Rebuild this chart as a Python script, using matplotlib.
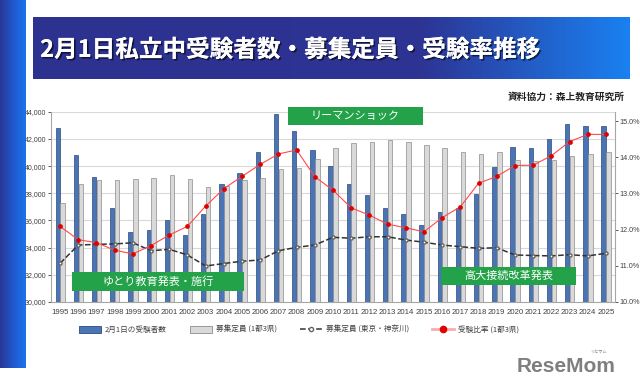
import matplotlib
matplotlib.use("Agg")
import matplotlib.pyplot as plt
import numpy as np
from matplotlib.colors import LinearSegmentedColormap
from matplotlib.lines import Line2D
from matplotlib.patches import Patch, Rectangle
import matplotlib.patheffects as pe

plt.rcParams['font.family'] = ['Liberation Sans', 'Noto Sans CJK JP', 'DejaVu Sans']

# data
years = [str(y) for y in range(1995, 2026)]
examinees = [42780, 40790, 39220, 36890, 35130, 35280, 36010, 34950, 36470, 38660,
             39500, 41010, 43830, 42560, 41160, 39980, 38700, 37850, 36940, 36450,
             35640, 36600, 36940, 37970, 39950, 41380, 41350, 41990, 43120, 42970, 42930]
capacity_all = [37310, 38660, 38980, 38950, 39070, 39100, 39320, 39030, 38440, 38530,
                38980, 39150, 39790, 39880, 40540, 41310, 41680, 41770, 41940, 41750,
                41550, 41350, 41040, 40870, 41010, 40420, 40370, 40450, 40720, 40870, 41040]
capacity_tk = [32850, 34190, 34240, 34270, 34360, 33770, 33880, 33460, 32650, 32830,
               33000, 33090, 33770, 34020, 34190, 34760, 34690, 34800, 34800, 34560,
               34400, 34190, 34070, 33950, 33990, 33460, 33420, 33390, 33480, 33390, 33580]
ratio = [12.09, 11.72, 11.64, 11.43, 11.33, 11.56, 11.85, 12.09, 12.65, 13.13,
         13.47, 13.80, 14.09, 14.20, 13.46, 13.09, 12.60, 12.40, 12.15, 12.05,
         11.94, 12.33, 12.63, 13.28, 13.47, 13.77, 13.78, 14.04, 14.43, 14.63, 14.63]

left_ticks = list(range(30000, 44001, 2000))
right_ticks = [10, 11, 12, 13, 14, 15]

W, H = 640, 389
fig = plt.figure(figsize=(6.4, 3.89), dpi=100)

# left blue strip
strip = fig.add_axes([0, 1 - 368 / H, 26 / W, 368 / H])
cm_strip = LinearSegmentedColormap.from_list('s', ['#2a3796', '#2157cc', '#1a74ec'])
strip.imshow(np.linspace(0, 1, 100).reshape(1, -1), aspect='auto', cmap=cm_strip)
strip.axis('off')

# title banner
ban = fig.add_axes([33 / W, 1 - 79 / H, 597 / W, 62 / H])
cm_ban = LinearSegmentedColormap.from_list('b', [(0, '#2e3190'), (0.65, '#2d3494'), (1, '#1a80f0')])
ban.imshow(np.linspace(0, 1, 200).reshape(1, -1), aspect='auto', cmap=cm_ban)
ban.axis('off')
ban.text(0.012, 0.47, '2月1日私立中受験者数・募集定員・受験率推移', transform=ban.transAxes,
         color='white', fontsize=17, fontweight='bold', va='center', ha='left',
         family=['Noto Sans CJK JP', 'DejaVu Sans'],
         path_effects=[pe.withSimplePatchShadow(offset=(1.2, -1.2), shadow_rgbFace='black', alpha=0.6),
                       pe.Normal()])

fig.text(625 / W, 1 - 97 / H, '資料協力：森上教育研究所', ha='right', va='center',
         fontsize=7, fontweight='bold', color='#222222', family=['Noto Sans CJK JP'])

# main chart
ax = fig.add_axes([51 / W, 1 - 302 / H, 564 / W, 190.3 / H])
x = np.arange(len(years))
ax.bar(x - 0.13, examinees, width=0.24, color='#4a74b4', edgecolor='#2b4a7e', linewidth=0.5, zorder=2)
ax.bar(x + 0.14, capacity_all, width=0.25, color='#d9d9d9', edgecolor='#8c8c8c', linewidth=0.5, zorder=2)
ax.plot(x, capacity_tk, linestyle='--', color='#333333', linewidth=1.1, marker='o',
        markersize=2.2, markerfacecolor='white', markeredgecolor='#666666', zorder=4)
ax.set_ylim(30000, 44000)
ax.set_xlim(-0.5, len(years) - 0.5)
ax.set_yticks(left_ticks)
ax.set_yticklabels([f'{v:,}' for v in left_ticks])
ax.set_xticks(x)
ax.set_xticklabels(years)
ax.grid(axis='y', color='#d9d9d9', linewidth=0.8, zorder=0)
ax.set_axisbelow(True)
ax.tick_params(axis='y', labelsize=5, colors='#404040', length=2, width=0.6, pad=1.2)
ax.tick_params(axis='x', labelsize=5.6, colors='#404040', length=0, pad=5)
for s in ['top', 'right']:
    ax.spines[s].set_visible(False)
for s in ['left', 'bottom']:
    ax.spines[s].set_color('#a6a6a6')

ax2 = ax.twinx()
ax2.plot(x, ratio, color='#ff4a4a', linewidth=0.8, marker='o', markersize=2.4,
         markerfacecolor='#e00000', markeredgecolor='#e00000', zorder=5)
ax2.set_ylim(10, 15.257)
ax2.set_yticks(right_ticks)
ax2.set_yticklabels([f'{v:.1f}%' for v in right_ticks])
ax2.tick_params(axis='y', labelsize=5.2, colors='#404040', length=2, width=0.6, pad=1.5)
for s in ['top', 'left', 'bottom']:
    ax2.spines[s].set_visible(False)
ax2.spines['right'].set_color('#a6a6a6')

# green event labels
events = [('リーマンショック', 288, 106.7, 135, 18.6),
          ('ゆとり教育発表・施行', 71.7, 271.7, 172.3, 19),
          ('高大接続改革発表', 441, 266.7, 134.7, 18.3)]
for label, ex, ey, ew, eh in events:
    fig.patches.append(Rectangle((ex / W, 1 - (ey + eh) / H), ew / W, eh / H,
                                 transform=fig.transFigure, facecolor='#24a24a',
                                 edgecolor='none', zorder=10))
    fig.text((ex + ew / 2) / W, 1 - (ey + eh / 2) / H, label, ha='center', va='center',
             color='white', fontsize=8, family=['Noto Sans CJK JP'], zorder=11)

handles = [Patch(facecolor='#4a74b4', edgecolor='#2b4a7e', linewidth=0.6),
           Patch(facecolor='#d9d9d9', edgecolor='#8c8c8c', linewidth=0.6),
           Line2D([], [], linestyle='--', color='#333333', linewidth=1.1, marker='o',
                  markersize=3, markerfacecolor='white', markeredgecolor='#666666'),
           Line2D([], [], color='#ffaaaa', linewidth=2, marker='o', markersize=4.5,
                  markerfacecolor='#e00000', markeredgecolor='#e00000')]
labels = ['2月1日の受験者数', '募集定員 (1都3県)', '募集定員 (東京・神奈川)', '受験比率 (1都3県)']
leg = fig.legend(handles, labels, loc='center', bbox_to_anchor=(299 / W, 1 - 330 / H), ncol=4,
                 frameon=False, fontsize=5.5, handlelength=2.9, handleheight=0.9,
                 handletextpad=0.5, columnspacing=3.0)
for t in leg.get_texts():
    t.set_color('#404040')
    t.set_family(['Noto Sans CJK JP'])

# site logo
fig.text(616 / W, 1 - 367 / H, 'ReseMom', ha='right', va='center', fontsize=15,
         fontweight='bold', color='#7f7f7f')
fig.text(598 / W, 1 - 352 / H, 'リセマム', ha='center', va='center', fontsize=3,
         color='#7f7f7f', family=['Noto Sans CJK JP'])

fig.savefig('out.png', dpi=100)
